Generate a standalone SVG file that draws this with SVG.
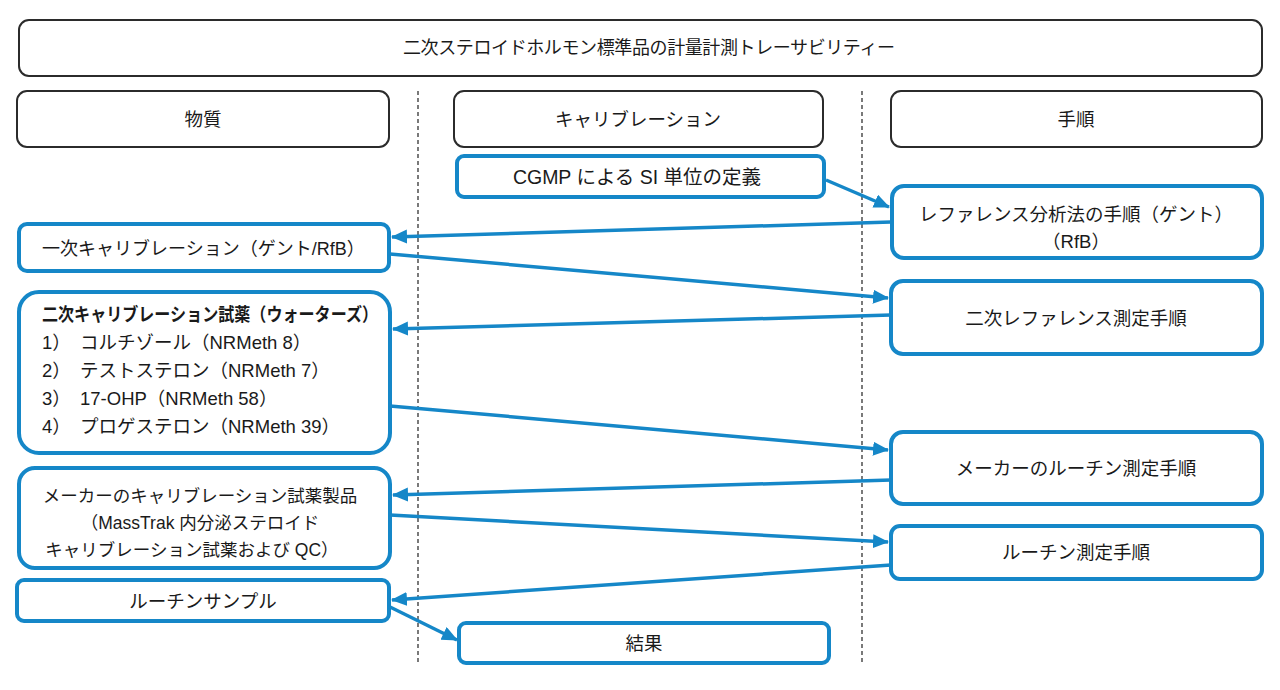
<svg xmlns="http://www.w3.org/2000/svg" width="1280" height="690" viewBox="0 0 1280 690">
<style>
.hdr{fill:#fff;stroke:#2b2b2b;stroke-width:2}
.nd{fill:#fff;stroke:#1587c8;stroke-width:4}
.t{font-family:"Liberation Sans","Noto Sans CJK JP",sans-serif;font-size:18.5px;fill:#1a1a1a}
.s{font-size:17.5px}
.c{text-anchor:middle}
.b{font-weight:bold}
.con{stroke:#1587c8;stroke-width:3.5;fill:none;marker-end:url(#ah)}
.sep{stroke:#333;stroke-width:1.3;stroke-dasharray:4 3;fill:none}
</style>
<defs>
<marker id="ah" markerUnits="userSpaceOnUse" markerWidth="18" markerHeight="16" refX="15" refY="7" orient="auto">
<path d="M0,0 L16,7 L0,14 Z" fill="#1587c8"/>
</marker>
</defs>
<rect width="1280" height="690" fill="#fff"/>
<g id="separators">
<line class="sep" x1="418" y1="91" x2="418" y2="664"/>
<line class="sep" x1="862" y1="91" x2="862" y2="664"/>
</g>
<g id="title"><rect class="hdr" x="19" y="20" width="1243" height="56" rx="10"/><text class="t c" x="649" y="54" style="font-size:18px" textLength="492">二次ステロイドホルモン標準品の計量計測トレーサビリティー</text></g>
<g id="h-substance"><rect class="hdr" x="17" y="91" width="372" height="56" rx="10"/><text class="t c" x="203" y="126">物質</text></g>
<g id="h-calibration"><rect class="hdr" x="454" y="91" width="369" height="56" rx="10"/><text class="t c" x="638" y="126">キャリブレーション</text></g>
<g id="h-procedure"><rect class="hdr" x="891" y="91" width="371" height="56" rx="10"/><text class="t c" x="1076" y="126">手順</text></g>

<g id="n-cgmp"><rect class="nd" x="457" y="156" width="367" height="41" rx="7"/><text class="t c" x="637" y="184" style="font-size:19.5px">CGMP による SI 単位の定義</text></g>
<g id="n-refmethod"><rect class="nd" x="892" y="186" width="370" height="72" rx="12"/><text class="t c" x="1076" y="221">レファレンス分析法の手順（ゲント）</text><text class="t c" x="1076" y="248">（RfB）</text></g>
<g id="n-primary"><rect class="nd" x="19" y="224" width="370" height="47" rx="8"/><text class="t" x="42" y="255" style="font-size:18px">一次キャリブレーション（ゲント/RfB）</text></g>
<g id="n-secondary"><rect class="nd" x="19" y="292" width="371" height="161" rx="20"/>
<text class="t b" x="42" y="321" textLength="336" lengthAdjust="spacingAndGlyphs">二次キャリブレーション試薬（ウォーターズ）</text>
<text class="t" y="349"><tspan x="42">1）</tspan><tspan x="80">コルチゾール（NRMeth 8）</tspan></text>
<text class="t" y="377"><tspan x="42">2）</tspan><tspan x="80">テストステロン（NRMeth 7）</tspan></text>
<text class="t" y="405"><tspan x="42">3）</tspan><tspan x="80">17-OHP（NRMeth 58）</tspan></text>
<text class="t" y="433"><tspan x="42">4）</tspan><tspan x="80">プロゲステロン（NRMeth 39）</tspan></text>
</g>
<g id="n-secref"><rect class="nd" x="891" y="281" width="371" height="73" rx="12"/><text class="t c" x="1076" y="325">二次レファレンス測定手順</text></g>
<g id="n-mfrroutine"><rect class="nd" x="891" y="432" width="371" height="72" rx="12"/><text class="t c" x="1076" y="475">メーカーのルーチン測定手順</text></g>
<g id="n-mfrcal"><rect class="nd" x="19" y="468" width="371" height="100" rx="16"/>
<text class="t s c" x="200" y="502">メーカーのキャリブレーション試薬製品</text>
<text class="t s c" x="200" y="529">（MassTrak 内分泌ステロイド</text>
<text class="t s c" x="192" y="556">キャリブレーション試薬および QC）</text>
</g>
<g id="n-routine"><rect class="nd" x="891" y="526" width="371" height="53" rx="9"/><text class="t c" x="1076" y="559">ルーチン測定手順</text></g>
<g id="n-sample"><rect class="nd" x="17" y="580" width="372" height="41" rx="7"/><text class="t c" x="203" y="608">ルーチンサンプル</text></g>
<g id="n-result"><rect class="nd" x="459" y="623" width="370" height="40" rx="7"/><text class="t c" x="644" y="650">結果</text></g>

<g id="connectors">
<line class="con" x1="826" y1="180" x2="889" y2="207"/>
<line class="con" x1="891" y1="222" x2="392" y2="237"/>
<line class="con" x1="390" y1="254" x2="888" y2="298"/>
<line class="con" x1="891" y1="315" x2="393" y2="329"/>
<line class="con" x1="390" y1="406" x2="888" y2="450"/>
<line class="con" x1="891" y1="480" x2="393" y2="495"/>
<line class="con" x1="390" y1="515" x2="888" y2="542"/>
<line class="con" x1="891" y1="565" x2="392" y2="600"/>
<line class="con" x1="388" y1="606" x2="457" y2="640"/>
</g>
</svg>
